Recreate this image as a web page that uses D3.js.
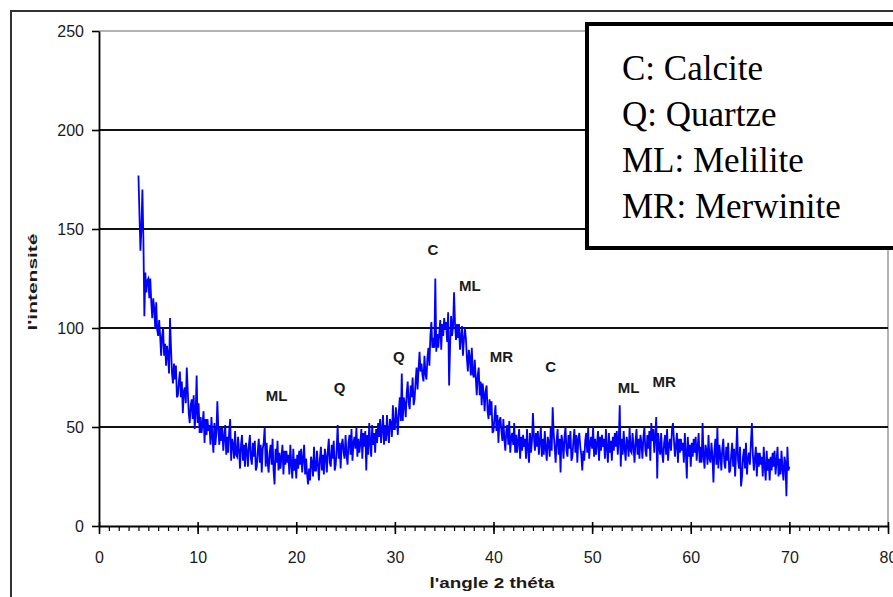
<!DOCTYPE html>
<html><head><meta charset="utf-8">
<script src="https://cdn.jsdelivr.net/npm/d3@7/dist/d3.min.js"></script>
<style>body{margin:0;background:#fff}svg{display:block}</style>
</head><body><svg id="c" width="893" height="597"></svg>
<script>
// 2θ grid of the scan (degrees)
const angleStart = 4.0;
const angleStep = 0.1;
// Intensity, one row per degree (d.0 ... d.9)
const intensity = [
177,158,139,150,170,145,106,128,118,124, // 4
125,115,125,113,105,115,110,100,113,99,  // 5
96,104,96,86,96,100,86,92,81,91,         // 6
86,77,105,90,77,72,82,74,81,65,          // 7
66,73,78,65,73,57,68,70,62,80,           // 8
68,57,52,61,64,54,66,49,57,76,           // 9
52,62,47,55,47,52,58,42,54,46,           // 10
54,48,51,41,55,45,37,52,41,47,           // 11
63,49,41,50,43,50,38,45,51,36,           // 12
45,37,48,54,33,44,41,34,48,36,           // 13
35,45,38,29,41,46,33,41,30,42,           // 14
38,30,41,46,34,31,42,35,43,28,           // 15
30,38,44,32,41,27,39,42,50,30,           // 16
42,32,27,37,41,31,44,28,21,39,           // 17
32,43,28,37,29,35,41,26,38,31,           // 18
38,32,36,26,41,31,24,39,28,34,           // 19
24,36,29,38,31,39,27,34,41,26,           // 20
34,26,21,29,23,35,32,25,40,28,           // 21
28,38,31,23,34,40,28,36,26,39,           // 22
35,27,38,44,32,30,41,34,43,28,           // 23
31,39,51,34,42,29,41,44,37,34,           // 24
46,36,31,42,46,36,49,33,42,45,           // 25
39,50,35,44,37,42,49,34,47,40,           // 26
48,28,46,36,52,42,35,51,41,47,           // 27
37,49,42,52,45,54,42,49,56,41,           // 28
51,43,56,47,42,54,52,45,61,49,           // 29
49,60,54,46,58,65,53,77,53,65,           // 30
62,55,67,73,62,59,71,65,75,61,           // 31
64,73,80,69,79,88,78,82,76,73,           // 32
86,77,74,85,90,81,96,103,90,95,          // 33
90,125,88,97,90,97,104,89,102,96,        // 34
105,99,103,93,108,71,91,106,96,101,      // 35
118,102,94,102,95,102,89,95,101,86,      // 36
94,100,95,85,78,89,85,76,90,77,          // 37
75,84,75,66,76,80,66,73,61,72,           // 38
67,58,68,71,58,54,64,56,63,47,           // 39
48,55,61,48,56,42,53,55,48,43,           // 40
54,44,38,48,51,41,53,37,45,47,           // 41
41,52,37,46,37,43,49,34,45,38,           // 42
46,40,44,34,49,39,32,47,37,43,           // 43
57,45,38,47,40,48,36,43,50,35,           // 44
44,36,48,39,33,45,42,35,50,38,           // 45
60,47,40,32,43,49,36,44,27,46,           // 46
42,34,45,50,38,35,46,39,48,33,           // 47
35,43,49,37,46,32,44,47,40,36,           // 48
28,38,33,43,47,37,50,34,42,45,           // 49
39,50,35,44,36,42,48,33,45,38,           // 50
46,40,44,34,49,39,32,47,37,43,           // 51
33,45,38,47,40,48,36,43,61,30,           // 52
44,36,48,39,33,45,42,35,50,38,           // 53
37,47,40,32,43,49,36,44,34,46,           // 54
42,34,45,50,38,35,46,39,48,33,           // 55
52,43,49,37,46,55,24,47,40,36,           // 56
47,37,32,42,46,36,49,33,41,44,           // 57
38,49,52,43,35,41,47,32,44,37,           // 58
44,38,42,32,47,37,24,45,35,41,           // 59
30,42,35,44,37,45,33,40,47,32,           // 60
40,32,52,35,29,41,38,31,46,34,           // 61
32,42,35,22,38,44,31,50,29,41,           // 62
36,28,39,44,32,29,40,33,42,27,           // 63
28,36,42,30,39,25,37,50,33,29,           // 64
40,20,25,35,39,29,42,26,34,37,           // 65
31,42,52,36,28,34,40,25,37,30,           // 66
37,31,35,25,40,30,23,38,28,34,           // 67
23,35,28,37,30,38,26,33,40,25,           // 68
34,26,38,29,23,35,32,15,40,28,           // 69
30                                       // 70
];
const xTicks = [0,10,20,30,40,50,60,70,80];
const yTicks = [0,50,100,150,200,250];
const gridValues = [50,100,150,200];
const peakTexts  = ["ML","Q","Q","C","ML","MR","C","ML","MR"];
const peakAngles = [18.0,24.4,30.4,33.87,37.6,40.8,45.8,53.7,57.3];
const peakLevels = [63.1,67.2,82.8,136.9,118.7,82.8,77.8,67.2,70.2];
const legendLines = ["C: Calcite","Q: Quartze","ML: Melilite","MR: Merwinite"];

const svg = d3.select("#c");
const x = d3.scaleLinear().domain([0,80]).range([99,888]);
const y = d3.scaleLinear().domain([0,250]).range([526,31]);
const sans = '"Liberation Sans", Arial, sans-serif';
const serif = '"Liberation Serif", "Times New Roman", serif';

// outer frame
svg.append("rect").attr("x",11).attr("y",11).attr("width",1000).attr("height",1000)
  .attr("fill","none").attr("stroke","#333").attr("stroke-width",2);

// plot border top/right
svg.append("line").attr("x1",x(0)).attr("x2",x(80)).attr("y1",y(250)).attr("y2",y(250))
  .attr("stroke","#9a9a9a").attr("stroke-width",1.5);
svg.append("line").attr("x1",x(80)).attr("x2",x(80)).attr("y1",y(250)).attr("y2",y(0))
  .attr("stroke","#9a9a9a").attr("stroke-width",1.5);

// gridlines
svg.append("g").selectAll("line").data(gridValues).join("line")
  .attr("x1",x(0)).attr("x2",x(80)).attr("y1",d=>y(d)).attr("y2",d=>y(d))
  .attr("stroke","#111").attr("stroke-width",1.8);

// data line
const pts = intensity.map((v,i)=>[angleStart + i*angleStep, v]);
svg.append("path").datum(pts)
  .attr("fill","none").attr("stroke","#0000ff").attr("stroke-width",1.8)
  .attr("stroke-linejoin","miter")
  .attr("d", d3.line().x(d=>x(d[0])).y(d=>y(d[1])));

// y axis
const ya = svg.append("g").attr("transform",`translate(${x(0)},0)`)
  .call(d3.axisLeft(y).tickValues(yTicks).tickSize(7).tickSizeOuter(0).tickPadding(8));
ya.select(".domain").attr("stroke","#000").attr("stroke-width",1.8);
ya.selectAll(".tick line").attr("stroke","#000").attr("stroke-width",1.6);
ya.selectAll("text").style("font-family",sans).style("font-size","16px").attr("fill","#1a1a1a");

// x axis minor
const xm = svg.append("g").attr("transform",`translate(0,${y(0)})`)
  .call(d3.axisBottom(x).tickValues(d3.range(0,81,1)).tickSize(5).tickSizeOuter(0).tickFormat(""));
xm.select(".domain").attr("stroke","#000").attr("stroke-width",1.8);
xm.selectAll(".tick line").attr("stroke","#000").attr("stroke-width",1.2);
// x axis major
const xa = svg.append("g").attr("transform",`translate(0,${y(0)})`)
  .call(d3.axisBottom(x).tickValues(xTicks).tickSize(8).tickSizeOuter(0));
xa.select(".domain").remove();
xa.selectAll(".tick line").attr("y1",-4).attr("y2",8).attr("stroke","#000").attr("stroke-width",1.6);
xa.selectAll("text").attr("y",26).style("font-family",sans).style("font-size","16px").attr("fill","#1a1a1a");

// axis titles
svg.append("text").attr("x",492).attr("y",588).attr("text-anchor","middle")
  .style("font-family",sans).style("font-weight","bold").style("font-size","15px").attr("fill","#1a1a1a")
  .attr("textLength",125).attr("lengthAdjust","spacingAndGlyphs")
  .text("l'angle 2 théta");
svg.append("text").attr("transform","translate(37,282) rotate(-90)").attr("text-anchor","middle")
  .style("font-family",sans).style("font-weight","bold").style("font-size","12px").attr("fill","#1a1a1a")
  .attr("textLength",97).attr("lengthAdjust","spacingAndGlyphs")
  .text("l'intensité");

// peak labels
svg.append("g").selectAll("text").data(peakTexts).join("text")
  .attr("x",(d,i)=>x(peakAngles[i])).attr("y",(d,i)=>y(peakLevels[i]))
  .attr("text-anchor","middle").style("font-family",sans).style("font-weight","bold")
  .style("font-size","15px").attr("fill","#1a1a1a").text(d=>d);

// legend box
svg.append("rect").attr("x",587).attr("y",24).attr("width",400).attr("height",224)
  .attr("fill","#fff").attr("stroke","#000").attr("stroke-width",4);
svg.append("g").selectAll("text").data(legendLines).join("text")
  .attr("x",622).attr("y",(d,i)=>80+i*46)
  .style("font-family",serif).style("font-size","35px")
  .attr("fill","#000").text(d=>d);
</script></body></html>
